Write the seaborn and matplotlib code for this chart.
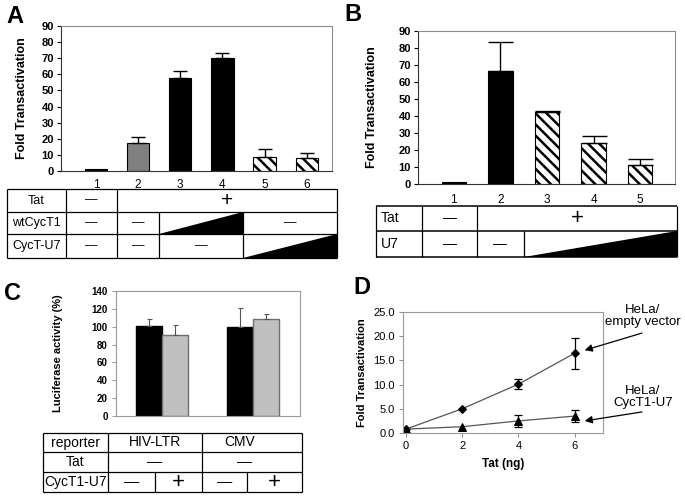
import numpy as np
import pandas as pd
import matplotlib
matplotlib.use("Agg")
import matplotlib.pyplot as plt
import seaborn as sns
from matplotlib.patches import Polygon

# ---------------- data ----------------
a_lanes = ["1", "2", "3", "4", "5", "6"]
a_values = [1.0, 17.4, 57.5, 70.2, 8.8, 7.8]
a_err_top = [1.0, 20.9, 62.1, 73.5, 13.7, 11.3]
a_colors = ["black", "#808080", "black", "black", "white", "white"]
a_hatched = [False, False, False, False, True, True]

b_lanes = ["1", "2", "3", "4", "5"]
b_values = [1.0, 66.7, 42.6, 24.1, 11.4]
b_err_top = [1.0, 83.5, 43.2, 28.5, 14.9]
b_colors = ["black", "black", "white", "white", "white"]
b_hatched = [False, False, True, True, True]

c_reporter = ["HIV-LTR", "HIV-LTR", "CMV", "CMV"]
c_cyct = ["minus", "plus", "minus", "plus"]
c_values = [100.4, 90.3, 100.0, 108.3]
c_err_top = [109.0, 101.5, 121.0, 113.9]

d_tat = [0, 2, 4, 6]
d_empty = [0.8, 5.0, 10.1, 16.5]
d_empty_err = [0.0, 0.0, 1.0, 3.2]
d_u7 = [0.8, 1.3, 2.5, 3.5]
d_u7_err = [0.0, 0.0, 1.2, 1.2]

# ---------------- style ----------------
sns.set_style("white")
plt.rcParams["font.family"] = ["Liberation Sans", "DejaVu Sans"]
plt.rcParams["hatch.linewidth"] = 1.8
plt.rcParams["hatch.color"] = "black"
for k in ["text.color", "axes.labelcolor", "xtick.color", "ytick.color"]:
    plt.rcParams[k] = "black"

W, H = 685, 499
fig = plt.figure(figsize=(W / 100, H / 100), dpi=100)


def add_ax(l, t, r, b):
    return fig.add_axes([l / W, 1 - b / H, (r - l) / W, (b - t) / H])


def style_spines(ax, side_col="#8c8c8c"):
    for s in ["top", "right"]:
        ax.spines[s].set_color(side_col)
        ax.spines[s].set_linewidth(0.8)
    for s in ["left", "bottom"]:
        ax.spines[s].set_color("#333333")
        ax.spines[s].set_linewidth(0.8)


def bar_panel(ax, lanes, values, errs, colors, hatched, xlim, capsize, xpad):
    sns.barplot(x=lanes, y=values, hue=lanes, palette=colors, legend=False,
                width=0.53, saturation=1, edgecolor="black", linewidth=0.8, ax=ax)
    centers = []
    for p, h in zip(ax.patches, hatched):
        if h:
            p.set_hatch("\\\\\\")
        centers.append(p.get_x() + p.get_width() / 2)
    xs, ys, es = [], [], []
    for c, v, e in zip(centers, values, errs):
        if e > v:
            xs.append(c); ys.append(v); es.append(e - v)
    ax.errorbar(xs, ys, yerr=[np.zeros(len(es)), es], fmt="none", ecolor="black",
                elinewidth=1.0, capsize=capsize, capthick=1.0)
    ax.set_xlim(*xlim)
    ax.set_ylim(0, 90)
    ax.set_yticks(range(0, 91, 10))
    ax.set_xlabel("")
    ax.set_ylabel("Fold Transactivation", fontsize=9, fontweight="bold")
    ax.tick_params(axis="y", left=True, length=3, width=0.8, direction="out",
                   labelsize=8, pad=2, labelcolor="black")
    for lab in ax.get_yticklabels():
        lab.set_fontweight("bold")
    ax.tick_params(axis="x", bottom=False, labelsize=8.5, pad=xpad, labelcolor="black")
    style_spines(ax)


# ---------------- Panel A ----------------
axA = add_ax(61, 26, 332, 171)
bar_panel(axA, a_lanes, a_values, a_err_top, a_colors, a_hatched, (-0.83, 5.6), 5, 2)
axA.yaxis.set_label_coords(-0.12, 0.5)

# ---------------- Panel B ----------------
axB = add_ax(418, 31, 675, 184)
bar_panel(axB, b_lanes, b_values, b_err_top, b_colors, b_hatched, (-0.77, 4.75), 9, 4)
axB.yaxis.set_label_coords(-0.155, 0.5)

# ---------------- Panel C ----------------
axC = add_ax(116, 291, 300, 416)
dfC = pd.DataFrame({"reporter": c_reporter, "cyct": c_cyct, "val": c_values, "err": c_err_top})
sns.barplot(data=dfC, x="reporter", y="val", hue="cyct", palette=["black", "#c0c0c0"],
            width=0.57, saturation=1, legend=False, ax=axC, linewidth=1.0)
for cont, lev, ec in zip(axC.containers, ["minus", "plus"], ["black", "#707070"]):
    sub = dfC[dfC["cyct"] == lev].set_index("reporter")
    xs, ys, es = [], [], []
    for bar, rep in zip(cont, ["HIV-LTR", "CMV"]):
        bar.set_edgecolor(ec)
        xs.append(bar.get_x() + bar.get_width() / 2)
        ys.append(sub.loc[rep, "val"])
        es.append(sub.loc[rep, "err"] - sub.loc[rep, "val"])
    axC.errorbar(xs, ys, yerr=[np.zeros(len(es)), es], fmt="none", ecolor="#555555",
                 elinewidth=0.8, capsize=1.8, capthick=0.8)
axC.set_xlim(-0.505, 1.516)
axC.set_ylim(0, 140)
axC.set_yticks(range(0, 141, 20))
axC.set_xticks([])
axC.set_xlabel("")
axC.set_ylabel("Luciferase activity (%)", fontsize=8, fontweight="bold")
axC.yaxis.set_label_coords(-0.29, 0.5)
axC.tick_params(axis="y", left=True, length=3, width=0.6, direction="out",
                labelsize=7, pad=3, color="#888888", labelcolor="black")
for lab in axC.get_yticklabels():
    lab.set_fontweight("bold")
for s in axC.spines.values():
    s.set_color("#9a9a9a"); s.set_linewidth(0.8)

# ---------------- Panel D ----------------
axD = add_ax(403, 312, 603, 433)
for vals, errs, mk, ms in [(d_empty, d_empty_err, "D", 4.5), (d_u7, d_u7_err, "^", 5.5)]:
    sns.lineplot(x=d_tat, y=vals, ax=axD, color="#555555", linewidth=0.9,
                 marker=mk, markersize=ms, markerfacecolor="black",
                 markeredgecolor="black")
    ex = [x for x, e in zip(d_tat, errs) if e > 0]
    ey = [v for v, e in zip(vals, errs) if e > 0]
    ee = [e for e in errs if e > 0]
    axD.errorbar(ex, ey, yerr=ee, fmt="none", ecolor="black", elinewidth=0.9,
                 capsize=3, capthick=0.9)
axD.set_xlim(-0.1, 7)
axD.set_ylim(0, 25)
axD.set_xticks([0, 2, 4, 6])
axD.set_yticks([0, 5, 10, 15, 20, 25])
axD.set_yticklabels([f"{v:.1f}" for v in [0, 5, 10, 15, 20, 25]])
axD.set_xlabel("Tat (ng)", fontsize=8.5, fontweight="bold", labelpad=5)
axD.set_ylabel("Fold Transactivation", fontsize=8, fontweight="bold")
axD.yaxis.set_label_coords(-0.18, 0.5)
axD.tick_params(axis="both", bottom=True, left=True, length=3, width=0.6,
                direction="out", labelsize=8, pad=3, color="#777777",
                labelcolor="black")
for s in axD.spines.values():
    s.set_color("#9a9a9a"); s.set_linewidth(0.8)

arrow = dict(arrowstyle="-|>", color="black", lw=0.9, mutation_scale=11,
             shrinkA=0, shrinkB=0)
axD.annotate("", xy=(6.35, 17.1), xytext=(1.195, 0.826), xycoords="data",
             textcoords="axes fraction", arrowprops=arrow, annotation_clip=False)
axD.annotate("", xy=(6.35, 2.5), xytext=(1.195, 0.174), xycoords="data",
             textcoords="axes fraction", arrowprops=arrow, annotation_clip=False)

# ---------------- overlay: tables, panel letters, labels ----------------
ov = fig.add_axes([0, 0, 1, 1])
ov.set_xlim(0, W)
ov.set_ylim(H, 0)
ov.axis("off")
ov.patch.set_visible(False)


def px(ax, xd):
    return ax.transData.transform((xd, 0))[0]


def hline(x0, x1, y, lw=0.9):
    ov.plot([x0, x1], [y, y], color="black", lw=lw, solid_capstyle="butt")


def vline(x, y0, y1, lw=0.9):
    ov.plot([x, x], [y0, y1], color="black", lw=lw, solid_capstyle="butt")


def wedge(x0, x1, yt, yb):
    ov.add_patch(Polygon([(x0, yb), (x1, yb), (x1, yt)], closed=True,
                         facecolor="black", edgecolor="none"))


def txt(x, y, s, size=8, **kw):
    ov.text(x, y, s, ha="center", va="center", fontsize=size, **kw)


DASH = "\u2014"

# Table A
L, R, lab = 7, 337, 66
rows = [189, 212, 234, 258]
c1, c2, c3 = px(axA, 0.5), px(axA, 1.5), px(axA, 3.5)
for y in rows:
    hline(L, R, y)
for x in [L, R, lab, c1]:
    vline(x, rows[0], rows[-1])
for x in [c2, c3]:
    vline(x, rows[1], rows[-1])
mid = [(rows[i] + rows[i + 1]) / 2 for i in range(3)]
txt((L + lab) / 2, mid[0], "Tat", 9)
txt((L + lab) / 2, mid[1], "wtCycT1", 9)
txt((L + lab) / 2, mid[2], "CycT-U7", 9)
txt((lab + c1) / 2, mid[0], DASH, 9)
txt((c1 + R) / 2, mid[0], "+", 15)
txt((lab + c1) / 2, mid[1], DASH, 9)
txt((c1 + c2) / 2, mid[1], DASH, 9)
wedge(c2, c3, rows[1], rows[2])
txt((c3 + R) / 2, mid[1], DASH, 9)
txt((lab + c1) / 2, mid[2], DASH, 9)
txt((c1 + c2) / 2, mid[2], DASH, 9)
txt((c2 + c3) / 2, mid[2], DASH, 9)
wedge(c3, R, rows[2], rows[3])

# Table B
L, R, lab = 376, 677, 422
rows = [206, 231, 257]
c1, c2 = px(axB, 0.5), px(axB, 1.5)
for y in rows:
    hline(L, R, y, lw=1.1)
for x in [L, R, lab, c1]:
    vline(x, rows[0], rows[-1])
vline(c2, rows[1], rows[2])
mid = [(rows[i] + rows[i + 1]) / 2 for i in range(2)]
ov.text(L + 5, mid[0], "Tat", ha="left", va="center", fontsize=10)
ov.text(L + 5, mid[1], "U7", ha="left", va="center", fontsize=10)
txt((lab + c1) / 2, mid[0], DASH, 10)
txt((c1 + R) / 2, mid[0], "+", 16)
txt((lab + c1) / 2, mid[1], DASH, 10)
txt((c1 + c2) / 2, mid[1], DASH, 10)
wedge(c2, R, rows[1], rows[2])

# Table C
L, R, lab, g = 43, 302, 108, 202
rows = [433, 452, 472, 492]
s1, s2 = 155, 247
for y in rows:
    hline(L, R, y)
for x in [L, R, lab, g]:
    vline(x, rows[0], rows[-1])
for x in [s1, s2]:
    vline(x, rows[2], rows[3])
mid = [(rows[i] + rows[i + 1]) / 2 for i in range(3)]
txt((L + lab) / 2, mid[0], "reporter", 10)
txt((L + lab) / 2, mid[1], "Tat", 10)
txt((L + lab) / 2, mid[2], "CycT1-U7", 10)
txt((lab + g) / 2, mid[0], "HIV-LTR", 10)
txt(240, mid[0], "CMV", 10)
txt((lab + g) / 2, mid[1], DASH, 11)
txt(245, mid[1], DASH, 11)
txt((lab + s1) / 2, mid[2], DASH, 11)
txt((s1 + g) / 2, mid[2], "+", 16)
txt((g + s2) / 2, mid[2], DASH, 11)
txt((s2 + R) / 2, mid[2], "+", 16)

# Annotation labels for panel D
ov.text(643, 316, "HeLa/\nempty vector", ha="center", va="center", fontsize=9.5,
        multialignment="center", linespacing=1.1)
ov.text(643, 397, "HeLa/\nCycT1-U7", ha="center", va="center", fontsize=9.5,
        multialignment="center", linespacing=1.1)

# Panel letters
for x, y, s in [(6, 16, "A"), (344, 14, "B"), (4, 293, "C"), (353, 288, "D")]:
    ov.text(x, y, s, ha="left", va="center", fontsize=17, fontweight="bold")

fig.savefig("out.png", dpi=100)
